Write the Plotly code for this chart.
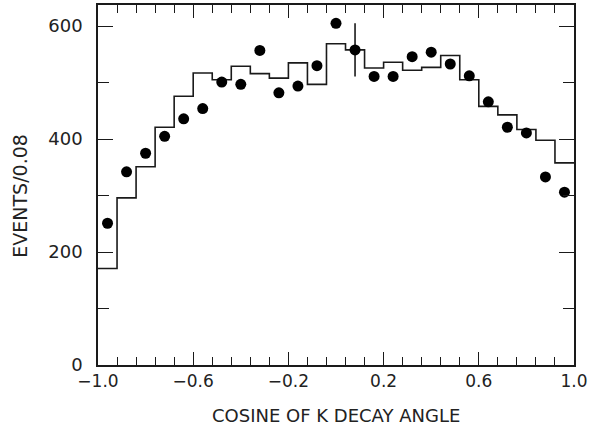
import plotly.graph_objects as go

# Bin edges of cos(theta_K), width 0.08
bin_edges = [round(-1.0 + 0.08 * k, 2) for k in range(26)]
bin_centers = [round(-0.96 + 0.08 * k, 2) for k in range(25)]

# Histogram (prediction)
hist_values = [171, 296, 351, 421, 476, 517, 505, 529, 516, 508, 535, 497, 569,
               558, 526, 536, 522, 527, 548, 505, 458, 443, 417, 398, 358]

# Data points
data_values = [251, 342, 375, 405, 436, 454, 501, 497, 557, 482, 494, 530, 605,
               558, 511, 511, 546, 554, 533, 512, 466, 421, 411, 333, 306]
# Typical error shown on one point only
data_errors = [0] * 13 + [47] + [0] * 11

x_tick_vals = [-1.0, -0.6, -0.2, 0.2, 0.6, 1.0]
x_tick_text = ["\u22121.0", "\u22120.6", "\u22120.2", "0.2", "0.6", "1.0"]
y_tick_vals = [0, 200, 400, 600]
y_tick_text = ["0", "200", "400", "600"]

x_title = "COSINE OF K DECAY ANGLE"
y_title = "EVENTS/0.08"

FONT = "DejaVu Sans"
INK = "#1a1a1a"
TEXT = "#222222"

fig = go.Figure()

fig.add_trace(go.Scatter(
    x=bin_edges,
    y=hist_values + [hist_values[-1]],
    mode="lines",
    line=dict(shape="hv", color=INK, width=1.6),
    hoverinfo="skip",
    showlegend=False,
))

err_idx = [i for i, e in enumerate(data_errors) if e > 0]
fig.add_trace(go.Scatter(
    x=[bin_centers[i] for i in err_idx],
    y=[data_values[i] for i in err_idx],
    mode="markers",
    marker=dict(size=1, color=INK),
    error_y=dict(type="data", array=[data_errors[i] for i in err_idx],
                 visible=True, color=INK, thickness=1.6, width=0),
    showlegend=False,
))

fig.add_trace(go.Scatter(
    x=bin_centers,
    y=data_values,
    mode="markers",
    marker=dict(size=11, color="black", line=dict(width=0)),
    showlegend=False,
))

fig.update_layout(
    width=597,
    height=430,
    margin=dict(l=98, r=23, t=5, b=65, autoexpand=False),
    paper_bgcolor="white",
    plot_bgcolor="white",
    font=dict(family=FONT, size=16, color=TEXT),
    xaxis=dict(
        range=[-1.0, 1.0],
        tickmode="array",
        tickvals=x_tick_vals,
        ticktext=x_tick_text,
        ticks="inside",
        ticklen=13,
        tickwidth=1.3,
        tickcolor=INK,
        minor=dict(dtick=0.08, tick0=-1.0, ticks="inside", ticklen=8,
                   tickwidth=1.3, tickcolor=INK, showgrid=False),
        showline=True,
        linecolor=INK,
        linewidth=1.5,
        mirror="ticks",
        showgrid=False,
        zeroline=False,
        automargin=False,
        ticklabelstandoff=0,
        tickfont=dict(family=FONT, size=17, color=TEXT),
    ),
    yaxis=dict(
        range=[0, 637.5],
        tickmode="array",
        tickvals=y_tick_vals,
        ticktext=y_tick_text,
        ticks="inside",
        ticklen=15,
        tickwidth=1.3,
        tickcolor=INK,
        minor=dict(dtick=100, tick0=0, ticks="inside", ticklen=11,
                   tickwidth=1.3, tickcolor=INK, showgrid=False),
        showline=True,
        linecolor=INK,
        linewidth=1.5,
        mirror="ticks",
        showgrid=False,
        zeroline=False,
        automargin=False,
        ticklabelstandoff=10,
        tickfont=dict(family=FONT, size=18, color=TEXT),
    ),
    annotations=[
        dict(text=x_title, xref="paper", yref="paper", x=0.5, y=-0.14,
             xanchor="center", yanchor="middle", showarrow=False,
             font=dict(family=FONT, size=18, color=TEXT)),
        dict(text=y_title, xref="paper", yref="paper", x=-0.164, y=0.47,
             xanchor="center", yanchor="middle", showarrow=False, textangle=-90,
             font=dict(family=FONT, size=19, color=TEXT)),
    ],
)

fig.write_html("out.html",
               config={"displayModeBar": False},
               post_script="document.body.style.margin='0';"
                           "document.body.style.padding='0';")
